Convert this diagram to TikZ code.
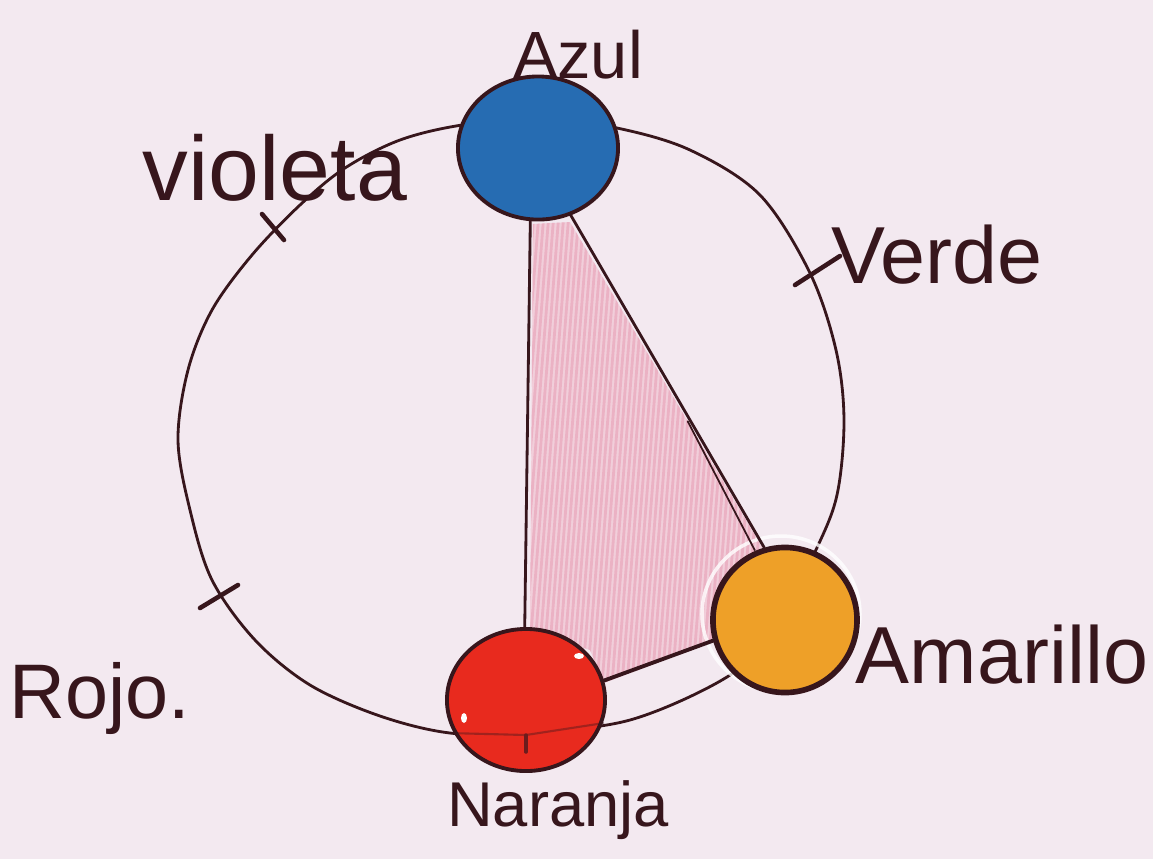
\documentclass[tikz,border=0pt]{standalone}
\usepackage{fontspec}
\setmainfont{Liberation Sans}
\usetikzlibrary{shapes.geometric,calc}
\definecolor{bgc}{RGB}{243,233,240}
\definecolor{inkc}{RGB}{55,22,28}
\definecolor{azulc}{RGB}{38,108,178}
\definecolor{rojoc}{RGB}{232,42,30}
\definecolor{ambarc}{RGB}{238,160,40}
\definecolor{pinkc}{RGB}{232,160,182}
\definecolor{pinklight}{RGB}{241,206,218}
\begin{document}
\begin{tikzpicture}[x=0.01cm,y=-0.01cm,
  ink/.style={draw=inkc, line width=0.8pt, line cap=round, line join=round},
  disc/.style={ellipse, draw=inkc, line width=1.1pt, inner sep=0pt},
  tick/.style={draw=inkc, line width=1.3pt, line cap=round},
  lbl/.style={text=inkc, inner sep=0pt}]
\useasboundingbox (0,0) rectangle (1153,859);
\fill[bgc] (0,0) rectangle (1153,859);

% pink hatched triangle
\begin{scope}
  \clip (533,224) -- (570,222) -- (762,547) -- (735,575) -- (716,640) -- (604,683) -- (590,650) -- (530,630) -- cycle;
  \fill[pinklight] (500,200) rectangle (800,700);
  \foreach \i in {0,...,70} {
    \draw[pinkc, line width=0.8pt, opacity=0.6] (480+\i*5,710) -- (520+\i*5,200);
  }
\end{scope}

% big hand-drawn circle
\draw[ink] plot[smooth cycle, tension=0.55] coordinates {
  (462,125) (540,118) (617,128) (690,150) (760,195) (810,273)
  (836,350) (844,420) (837,495) (815,552) (775,630) (727,677)
  (630,720) (526,733) (450,733) (380,716) (310,685) (255,640)
  (212,580) (190,510) (178,440) (188,370) (212,310) (252,255)
  (300,205) (345,168) (400,140)};

% discs
\node[disc, fill=azulc, minimum width=1.6cm, minimum height=1.43cm] (blue) at (538,148) {};
\node[disc, fill=rojoc, minimum width=1.58cm, minimum height=1.42cm] (red) at (526,700) {};
\draw[white, line width=1pt, opacity=0.8] (781,614) ellipse [x radius=79, y radius=78];
\node[disc, fill=ambarc, line width=1.6pt, minimum width=1.44cm, minimum height=1.45cm] (orange) at (785,620) {};

% triangle edges
\draw[ink] (blue.-96) -- (red.91);
\draw[ink] (blue.-64) -- (orange.106);
\draw[ink, line width=0.5pt] ($(blue.-64)!0.62!(orange.106)+(-3,0)$) -- ($(orange.112)+(-2,0)$);
\draw[ink, line width=1.1pt] (red.14) -- (orange.-164);

% circle seen through the red disc
\draw[inkc, line width=0.6pt, opacity=0.4] (448,733) -- (526,735) -- (604,723);
% highlights on the red disc
\fill[white] (579,656) ellipse [x radius=5, y radius=3];
\fill[white] (464,718) ellipse [x radius=3, y radius=5];

% tick marks
\draw[tick] (262,214) -- (284,240);
\draw[tick] (795,285) -- (840,256);
\draw[tick] (200,608) -- (238,585);
\draw[tick, draw=inkc!70!rojoc, line width=1pt] (526,735) -- (526,752);

% labels
\node[lbl, font=\fontsize{19}{22}\selectfont] (lazul) at (578,55) {Azul};
\node[lbl, font=\fontsize{26}{30}\selectfont] (lvioleta) at (275,168) {violeta};
\node[lbl, font=\fontsize{23}{28}\selectfont] (lverde) at (937,255) {Verde};
\node[lbl, font=\fontsize{22}{26}\selectfont] (lrojo) at (100,698) {Rojo.};
\node[lbl, font=\fontsize{23}{28}\selectfont] (lamarillo) at (1002,655) {Amarillo};
\node[lbl, font=\fontsize{18}{22}\selectfont] (lnaranja) at (558,810) {Naranja};
\end{tikzpicture}
\end{document}
